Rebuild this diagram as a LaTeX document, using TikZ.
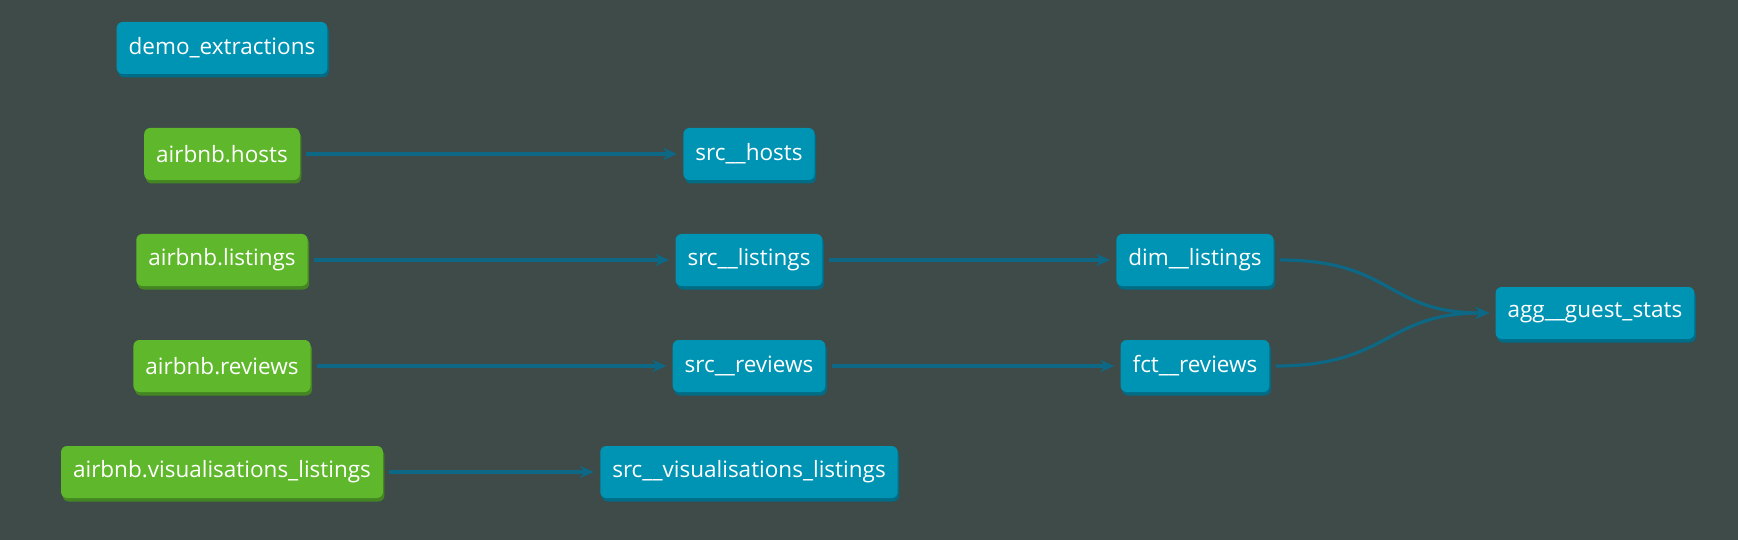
\documentclass[tikz,border=0pt]{standalone}
\usepackage{fontspec}
\setmainfont{Open Sans}
\usetikzlibrary{arrows.meta,shadows}
\definecolor{bg}{RGB}{62,75,72}
\definecolor{bluenode}{RGB}{0,148,180}
\definecolor{blueshadow}{RGB}{0,108,134}
\definecolor{greennode}{RGB}{95,184,44}
\definecolor{greenshadow}{RGB}{68,135,34}
\definecolor{edgecol}{RGB}{12,104,132}
\tikzset{
  base/.style={rounded corners=6pt, minimum height=52pt, inner xsep=12pt,
    text=white, font=\fontsize{22.5}{27}\selectfont, anchor=center},
  bluebox/.style={base, fill=bluenode,
    drop shadow={shadow xshift=1.5pt, shadow yshift=-3.5pt, fill=blueshadow, opacity=1}},
  greenbox/.style={base, fill=greennode,
    drop shadow={shadow xshift=1.5pt, shadow yshift=-3.5pt, fill=greenshadow, opacity=1}},
  link/.style={draw=edgecol, line width=3.2pt, -{Stealth[length=14pt,width=12pt]},
    shorten <=6pt, shorten >=6pt},
}
\begin{document}
\begin{tikzpicture}[x=1pt,y=-1pt]
\fill[bg] (0,0) rectangle (1738,540);
\useasboundingbox (0,0) rectangle (1738,540);

\node[bluebox] (demo) at (222,48) {demo\_extractions};

\node[greenbox] (hosts) at (222,154) {airbnb.hosts};
\node[greenbox] (listings) at (222,260) {airbnb.listings};
\node[greenbox] (reviews) at (222,366) {airbnb.reviews};
\node[greenbox] (vis) at (222,472) {airbnb.visualisations\_listings};

\node[bluebox] (shosts) at (749,154) {src\_\_hosts};
\node[bluebox] (slistings) at (749,260) {src\_\_listings};
\node[bluebox] (sreviews) at (749,366) {src\_\_reviews};
\node[bluebox] (svis) at (749,472) {src\_\_visualisations\_listings};

\node[bluebox] (dim) at (1195,260) {dim\_\_listings};
\node[bluebox] (fct) at (1195,366) {fct\_\_reviews};

\node[bluebox] (agg) at (1595,313) {agg\_\_guest\_stats};

\draw[link] (hosts) -- (shosts);
\draw[link] (listings) -- (slistings);
\draw[link] (reviews) -- (sreviews);
\draw[link] (vis) -- (svis);
\draw[link] (slistings) -- (dim);
\draw[link] (sreviews) -- (fct);
\draw[link] (dim.east) .. controls +(120,0) and +(-110,0) .. (agg.west);
\draw[link] (fct.east) .. controls +(120,0) and +(-110,0) .. (agg.west);
\end{tikzpicture}
\end{document}
